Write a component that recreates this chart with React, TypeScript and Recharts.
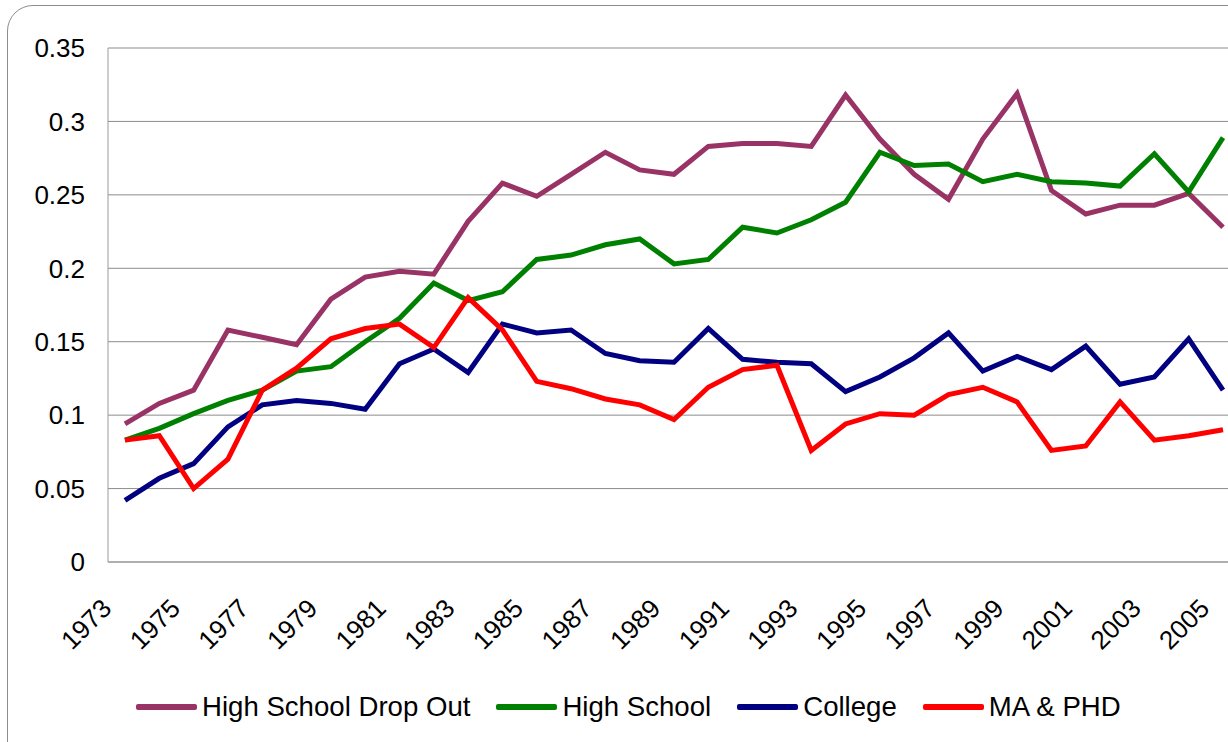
import { CartesianGrid, Legend, Line, LineChart, XAxis, YAxis } from 'recharts';

const years = [
  '1973', '1974', '1975', '1976', '1977', '1978', '1979', '1980', '1981', '1982', '1983',
  '1984', '1985', '1986', '1987', '1988', '1989', '1990', '1991', '1992', '1993', '1994',
  '1995', '1996', '1997', '1998', '1999', '2000', '2001', '2002', '2003', '2004', '2005',
];

const dropOut = [
  0.094, 0.108, 0.117, 0.158, 0.153, 0.148, 0.179, 0.194, 0.198, 0.196, 0.232,
  0.258, 0.249, 0.264, 0.279, 0.267, 0.264, 0.283, 0.285, 0.285, 0.283, 0.318,
  0.288, 0.264, 0.247, 0.288, 0.319, 0.253, 0.237, 0.243, 0.243, 0.251, 0.228,
];

const highSchool = [
  0.083, 0.091, 0.101, 0.11, 0.117, 0.13, 0.133, 0.15, 0.166, 0.19, 0.178,
  0.184, 0.206, 0.209, 0.216, 0.22, 0.203, 0.206, 0.228, 0.224, 0.233, 0.245,
  0.279, 0.27, 0.271, 0.259, 0.264, 0.259, 0.258, 0.256, 0.278, 0.252, 0.289,
];

const college = [
  0.042, 0.057, 0.067, 0.092, 0.107, 0.11, 0.108, 0.104, 0.135, 0.145, 0.129,
  0.162, 0.156, 0.158, 0.142, 0.137, 0.136, 0.159, 0.138, 0.136, 0.135, 0.116,
  0.126, 0.139, 0.156, 0.13, 0.14, 0.131, 0.147, 0.121, 0.126, 0.152, 0.117,
];

const maPhd = [
  0.083, 0.086, 0.05, 0.07, 0.117, 0.132, 0.152, 0.159, 0.162, 0.146, 0.18,
  0.158, 0.123, 0.118, 0.111, 0.107, 0.097, 0.119, 0.131, 0.134, 0.076, 0.094,
  0.101, 0.1, 0.114, 0.119, 0.109, 0.076, 0.079, 0.109, 0.083, 0.086, 0.09,
];

const yTicks = [0, 0.05, 0.1, 0.15, 0.2, 0.25, 0.3, 0.35];

const SERIES = [
  { key: 'dropOut', name: 'High School Drop Out', color: '#993366' },
  { key: 'highSchool', name: 'High School', color: '#008000' },
  { key: 'college', name: 'College', color: '#000080' },
  { key: 'maPhd', name: 'MA & PHD', color: '#FF0000' },
];

const data = years.map((year, i) => ({
  year,
  dropOut: dropOut[i],
  highSchool: highSchool[i],
  college: college[i],
  maPhd: maPhd[i],
}));

const FONT = '"Liberation Sans", Arial, sans-serif';

// rotated year labels, ending a little left of the data point like excel does
function YearTick({ x, y, payload }: any) {
  const tx = x - 12;
  const ty = y + 48;
  return (
    <text
      x={tx}
      y={ty}
      transform={`rotate(-45, ${tx}, ${ty})`}
      textAnchor="end"
      fontSize={26}
      fill="#000"
      fontFamily={FONT}
    >
      {payload.value}
    </text>
  );
}

function ChartLegend() {
  return (
    <div style={{ height: 70, display: 'flex', alignItems: 'center', paddingLeft: 136, fontFamily: FONT }}>
      {SERIES.map((s) => (
        <div key={s.key} style={{ display: 'flex', alignItems: 'center', marginRight: 26 }}>
          <div style={{ width: 61, height: 6, background: s.color, borderRadius: 2 }} />
          <span style={{ fontSize: 27.6, color: '#000', marginLeft: 5 }}>{s.name}</span>
        </div>
      ))}
    </div>
  );
}

export default function App() {
  return (
    <div style={{ position: 'fixed', left: 0, top: 0, width: 1228, height: 742, overflow: 'hidden', background: '#fff' }}>
      <div
        style={{
          position: 'absolute',
          left: 7,
          top: 5,
          width: 1300,
          height: 800,
          border: '1.5px solid #8c8c8c',
          borderRadius: 26,
          boxSizing: 'border-box',
        }}
      />
      <div style={{ position: 'absolute', left: 0, top: 0 }}>
        <LineChart
          width={1260}
          height={742}
          data={data}
          margin={{ top: 48, right: 20, bottom: 0, left: 0 }}
          style={{ fontFamily: FONT }}
        >
          <CartesianGrid vertical={false} stroke="#8c8c8c" />
          <XAxis
            dataKey="year"
            interval={1}
            height={110}
            padding={{ left: 17, right: 17 }}
            tickLine={false}
            tickSize={0}
            tickMargin={0}
            axisLine={{ stroke: '#9a9a9a' }}
            tick={<YearTick />}
          />
          <YAxis
            width={108}
            domain={[0, 0.35]}
            ticks={yTicks}
            tickLine={false}
            tickSize={0}
            tickMargin={23}
            axisLine={{ stroke: '#9a9a9a' }}
            tickFormatter={(v: number) => String(v)}
            tick={{ fill: '#000', fontSize: 26, fontFamily: FONT }}
          />
          <Legend verticalAlign="bottom" content={<ChartLegend />} />
          {SERIES.map((s) => (
            <Line
              key={s.key}
              type="linear"
              dataKey={s.key}
              name={s.name}
              stroke={s.color}
              strokeWidth={5}
              dot={false}
              isAnimationActive={false}
            />
          ))}
        </LineChart>
      </div>
    </div>
  );
}
